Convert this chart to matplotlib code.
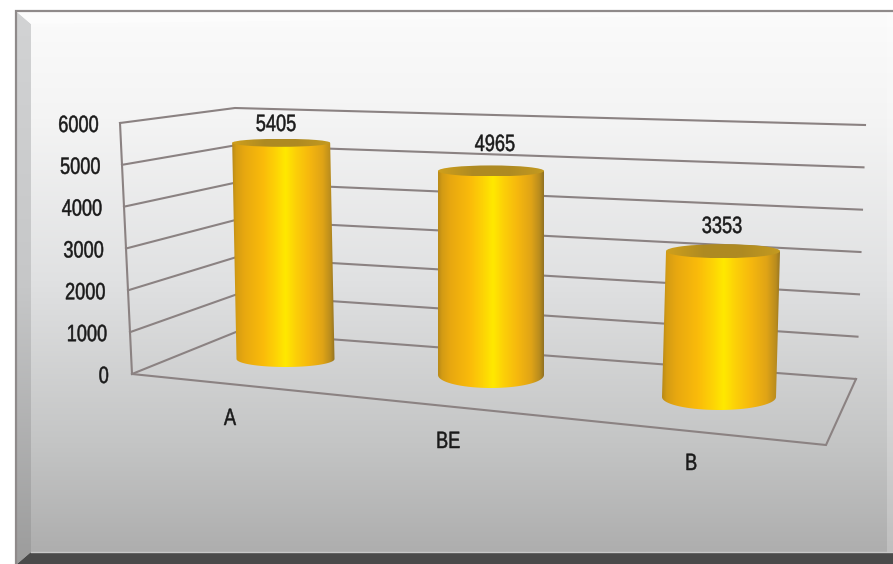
import matplotlib

matplotlib.use("Agg")
import matplotlib.pyplot as plt
import numpy as np
from matplotlib.colors import LinearSegmentedColormap
from matplotlib.patches import Ellipse, PathPatch, Polygon, Rectangle
from matplotlib.patheffects import AbstractPathEffect
from matplotlib.path import Path
from matplotlib.transforms import Affine2D

# %% data
categories = ["A", "BE", "B"]
values = [5405, 4965, 3353]
ticks = [0, 1000, 2000, 3000, 4000, 5000, 6000]

# %% layout in pixels of the 893x564 picture
W, H = 893, 564
FRONT_L = ((132, 374), (120, 123))  # (x, y) at value 0 and at 6000
BACK_L = ((236, 332), (235, 108))
BACK_R = ((856, 379), (865, 125))
FRONT_R = (826, 445)
YMAX = 6000.0

# one entry per cylinder
base_x = [285.5, 491, 719]
base_y = [359, 375, 397]
px_per_unit = [0.0400, 0.0411, 0.0435]
lean = [-0.0008, 0.0, 0.0012]
half_w = [49, 53, 57]
top_ry = [4, 5.5, 7]
bot_ry = [8, 13, 13]
label_pos = [(276, 125), (495, 145), (722, 227)]
cat_pos = [(230, 419), (448, 442), (691, 464)]

plt.rcParams["font.family"] = ["Liberation Sans", "DejaVu Sans"]
TXT = "#1a1a1a"
GRID = "#8b8282"
FONT_SIZE = 17


class Squeeze(AbstractPathEffect):
    # the reference font is a condensed one, narrow the glyphs horizontally
    def __init__(self, sx=0.77, anchor="center", stroke=0.35):
        super().__init__()
        self.sx = sx
        self.anchor = anchor
        self.stroke = stroke

    def draw_path(self, renderer, gc, tpath, affine, rgbFace=None):
        ext = tpath.get_extents(affine)
        x0 = ext.x1 if self.anchor == "right" else 0.5 * (ext.x0 + ext.x1)
        squeeze = Affine2D().translate(-x0, 0).scale(self.sx, 1).translate(x0, 0)
        gc0 = renderer.new_gc()
        gc0.copy_properties(gc)
        gc0.set_linewidth(self.stroke)
        gc0.set_foreground(TXT)
        renderer.draw_path(gc0, tpath, affine + squeeze, rgbFace)
        gc0.restore()


def on_edge(edge, v):
    (x0, y0), (x1, y1) = edge
    f = v / YMAX
    return x0 + (x1 - x0) * f, y0 + (y1 - y0) * f


fig = plt.figure(figsize=(W / 100, H / 100), dpi=100, facecolor="white")
ax = fig.add_axes([0, 0, 1, 1])
ax.axis("off")

# %% panel background
panel = LinearSegmentedColormap.from_list(
    "panel",
    [(0, "#fbfbfb"), (0.2, "#f4f4f4"), (0.5, "#e0e1e2"), (0.8, "#c4c5c5"), (1, "#aeaeae")],
)
ax.imshow(
    np.linspace(0, 1, 256)[:, None], extent=(17, W, 552, 10), cmap=panel, vmin=0, vmax=1,
    aspect="auto", zorder=0,
)
bevel = LinearSegmentedColormap.from_list("bevel", ["#d2d3d4", "#c6c7c8", "#9c9c9c"])
left_bevel = ax.imshow(
    np.linspace(0, 1, 256)[:, None], extent=(17, 31, 564, 12), cmap=bevel, aspect="auto", zorder=1,
)
left_bevel.set_clip_path(Polygon([(17, 12), (31, 24), (31, 552), (17, 564)], transform=ax.transData))
ax.add_patch(Polygon([(17, 12), (W, 12), (W, 14), (31, 24)], fc="#fcfcfc", ec="none", zorder=1))
ax.add_patch(Rectangle((887, 14), 6, 538, fc="white", alpha=0.22, ec="none", zorder=1))
ax.add_patch(Polygon([(31, 552), (W, 552), (W, 564), (17, 564)], fc="#4a4a4a", ec="none", zorder=2))
ax.plot([31, W], [551.5, 551.5], color="#c9c9c9", lw=1, zorder=2)
ax.plot([16, 16, W], [564, 10.5, 10.5], color="#8f8a8a", lw=1.6, zorder=3, solid_joinstyle="miter")

# %% walls and gridlines
for t in ticks:
    fl = on_edge(FRONT_L, t)
    bl = on_edge(BACK_L, t)
    br = on_edge(BACK_R, t)
    ax.plot([fl[0], bl[0], br[0]], [fl[1], bl[1], br[1]], color=GRID, lw=1.5, zorder=4,
            solid_joinstyle="miter")
    ax.text(109 - 10 * t / YMAX, fl[1] + 3, str(t), ha="right", va="center", fontsize=FONT_SIZE,
            color=TXT, zorder=8, path_effects=[Squeeze(anchor="right")])
ax.plot(*zip(FRONT_L[0], FRONT_L[1]), color=GRID, lw=1.5, zorder=4)
ax.plot(*zip(FRONT_L[0], FRONT_R, BACK_R[0]), color=GRID, lw=1.5, zorder=4, solid_joinstyle="miter")

# %% cylinders
body = LinearSegmentedColormap.from_list(
    "body",
    [(0, "#b98a18"), (0.04, "#d49c14"), (0.12, "#e8a810"), (0.3, "#fabb0a"), (0.42, "#fdd206"),
     (0.52, "#ffe900"), (0.62, "#fcd008"), (0.75, "#f6b80e"), (0.88, "#e0a416"),
     (0.96, "#b98c1e"), (1, "#927222")],
)
lid = LinearSegmentedColormap.from_list("lid", ["#cfa01c", "#ae8a22", "#ae8a22", "#c49a20"])
for i, v in enumerate(values):
    bx, by = base_x[i], base_y[i]
    tx = bx + lean[i] * v
    ty = by - px_per_unit[i] * v
    w = half_w[i]
    th = np.linspace(np.pi, 0, 40)
    bottom = np.column_stack([bx + w * np.cos(th), by + bot_ry[i] * np.sin(th)])
    outline = np.vstack([[(tx - w, ty)], bottom, [(tx + w, ty)], [(tx - w, ty)]])
    clip = PathPatch(Path(outline), transform=ax.transData, fc="none", ec="none")
    ax.add_patch(clip)
    im = ax.imshow(
        np.linspace(0, 1, 256)[None, :], extent=(min(bx, tx) - w, max(bx, tx) + w, by + bot_ry[i], ty),
        cmap=body, aspect="auto", zorder=5,
    )
    im.set_clip_path(clip)
    top = Ellipse((tx, ty), 2 * w, 2 * top_ry[i], fc="none", ec="none")
    ax.add_patch(top)
    lid_im = ax.imshow(
        np.linspace(0, 1, 64)[None, :], extent=(tx - w, tx + w, ty + top_ry[i], ty - top_ry[i]),
        cmap=lid, aspect="auto", zorder=6,
    )
    lid_im.set_clip_path(top)
    ax.text(*label_pos[i], str(v), ha="center", va="center", fontsize=FONT_SIZE, color=TXT, zorder=8,
            path_effects=[Squeeze()])
    ax.text(*cat_pos[i], categories[i], ha="center", va="center", fontsize=FONT_SIZE, color=TXT,
            zorder=8, path_effects=[Squeeze()])

ax.set_xlim(0, W)
ax.set_ylim(H, 0)
fig.savefig("out.png", dpi=100)
